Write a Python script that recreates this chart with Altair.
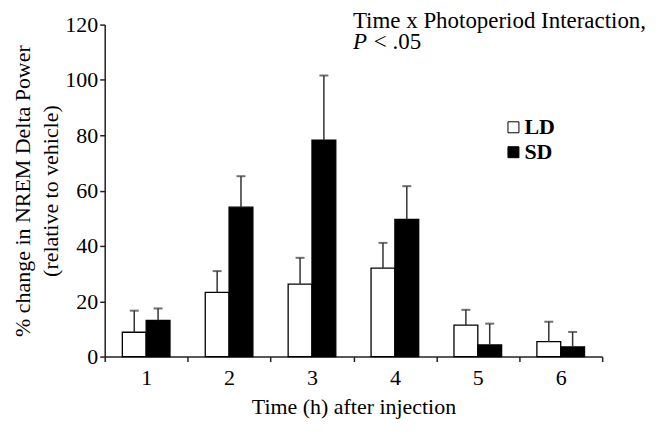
import altair as alt
import pandas as pd

hours = ["1", "2", "3", "4", "5", "6"]
ld_mean = [8.8, 23.2, 26.2, 32.0, 11.4, 5.4]
ld_err = [7.8, 7.7, 9.5, 9.1, 5.5, 7.2]
sd_mean = [13.1, 54.0, 78.2, 49.6, 4.2, 3.5]
sd_err = [4.3, 11.2, 23.4, 12.0, 7.7, 5.4]
groups = ["LD", "SD"]
y_ticks = [0, 20, 40, 60, 80, 100, 120]

rows = []
for i, h in enumerate(hours):
    rows.append({"hour": h, "group": "LD", "mean": ld_mean[i], "top": ld_mean[i] + ld_err[i]})
    rows.append({"hour": h, "group": "SD", "mean": sd_mean[i], "top": sd_mean[i] + sd_err[i]})
df = pd.DataFrame(rows)

FONT = "Liberation Serif"

x = alt.X("hour:N", sort=hours, title="Time (h) after injection",
          scale=alt.Scale(paddingInner=0, paddingOuter=0),
          axis=alt.Axis(labelAngle=0, tickBand="extent", tickSize=5, labelPadding=6,
                        labelFontSize=22, titleFontSize=22, titlePadding=8,
                        labelFont=FONT, titleFont=FONT, titleFontWeight="normal",
                        labelColor="black", titleColor="black",
                        domainColor="#222", tickColor="#222", domainWidth=1.5, tickWidth=1.5))
xoff = alt.XOffset("group:N", sort=groups, scale=alt.Scale(paddingInner=0, paddingOuter=0.74))
y = alt.Y("mean:Q", scale=alt.Scale(domain=[0, 120], nice=False),
          title=["% change in NREM Delta Power", "(relative to vehicle)"],
          axis=alt.Axis(values=y_ticks, grid=False, tickSize=5, labelPadding=2,
                        labelFontSize=22, titleFontSize=22, titlePadding=2,
                        labelFont=FONT, titleFont=FONT, titleFontWeight="normal",
                        labelColor="black", titleColor="black", titleLineHeight=28,
                        domainColor="#222", tickColor="#222", domainWidth=1.5, tickWidth=1.5))

base = alt.Chart(df)

bars = base.mark_bar(stroke="black", strokeWidth=1.3).encode(
    x=x, xOffset=xoff, y=y,
    fill=alt.Fill("group:N", sort=groups,
                  scale=alt.Scale(domain=groups, range=["white", "black"]),
                  legend=alt.Legend(title=None, orient="none", legendX=399, legendY=92,
                                    symbolType="square", symbolSize=121,
                                    symbolStrokeColor="black", symbolStrokeWidth=1,
                                    labelFont=FONT, labelFontSize=22, labelFontWeight="bold",
                                    labelColor="black", labelOffset=0, rowPadding=3)),
)

err = base.mark_rule(color="#333", strokeWidth=1.5).encode(
    x=alt.X("hour:N", sort=hours), xOffset=xoff,
    y=alt.Y("mean:Q"), y2="top:Q",
)
caps = base.mark_tick(color="#333", size=9, thickness=2).encode(
    x=alt.X("hour:N", sort=hours), xOffset=xoff,
    y=alt.Y("top:Q"),
)

ann1 = alt.Chart(pd.DataFrame({"t": ["Time x Photoperiod Interaction,"]})).mark_text(
    font=FONT, fontSize=23, align="left", baseline="alphabetic", color="black"
).encode(x=alt.value(249), y=alt.value(3), text="t:N")
ann2 = alt.Chart(pd.DataFrame({"t": ["P"]})).mark_text(
    font=FONT, fontSize=23, fontStyle="italic", align="left", baseline="alphabetic", color="black"
).encode(x=alt.value(249), y=alt.value(24), text="t:N")
ann3 = alt.Chart(pd.DataFrame({"t": ["< .05"]})).mark_text(
    font=FONT, fontSize=23, align="left", baseline="alphabetic", color="black"
).encode(x=alt.value(270), y=alt.value(24), text="t:N")

chart = alt.layer(bars, err, caps, ann1, ann2, ann3).properties(
    width=499, height=333,
    autosize=alt.AutoSizeParams(type="none"),
    padding={"left": 97, "top": 16, "right": 55, "bottom": 75},
    background="white",
).configure_view(stroke=None)

chart.save("out.html", embed_options={"renderer": "svg", "actions": False})
